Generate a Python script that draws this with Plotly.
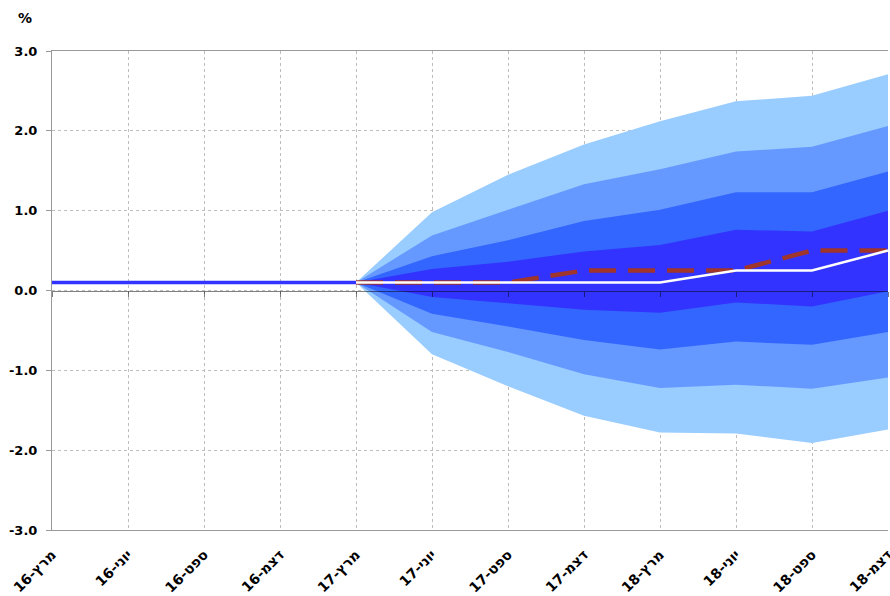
import plotly.graph_objects as go

categories = ["מרץ-16", "יוני-16", "ספט-16", "דצמ-16", "מרץ-17", "יוני-17",
              "ספט-17", "דצמ-17", "מרץ-18", "יוני-18", "ספט-18", "דצמ-18"]

# history (actual rate)
history = [0.1, 0.1, 0.1, 0.1, 0.1]

# forecast period (from מרץ-17)
fc_cats = categories[4:]
band1_upper = [0.1, 0.98, 1.45, 1.83, 2.12, 2.37, 2.44, 2.71]
band1_lower = [0.1, -0.80, -1.20, -1.57, -1.78, -1.79, -1.91, -1.74]
band2_upper = [0.1, 0.69, 1.01, 1.33, 1.52, 1.74, 1.80, 2.06]
band2_lower = [0.1, -0.52, -0.77, -1.05, -1.22, -1.18, -1.23, -1.09]
band3_upper = [0.1, 0.43, 0.63, 0.87, 1.01, 1.23, 1.23, 1.49]
band3_lower = [0.1, -0.29, -0.45, -0.62, -0.74, -0.64, -0.68, -0.52]
band4_upper = [0.1, 0.27, 0.36, 0.49, 0.57, 0.76, 0.74, 1.00]
band4_lower = [0.1, -0.08, -0.16, -0.24, -0.28, -0.15, -0.20, -0.01]

central_path = [0.1, 0.1, 0.1, 0.1, 0.1, 0.25, 0.25, 0.5]
alt_path = [0.1, 0.1, 0.1, 0.25, 0.25, 0.25, 0.5, 0.5]

y_tick_vals = [-3, -2, -1, 0, 1, 2, 3]
y_tick_labels = ["-3.0", "-2.0", "-1.0", "0.0", "1.0", "2.0", "3.0"]

band_colors = ["#99CCFF", "#6699FF", "#3366FF", "#3333FF"]
bands = [(band1_lower, band1_upper), (band2_lower, band2_upper),
         (band3_lower, band3_upper), (band4_lower, band4_upper)]

fig = go.Figure()

for (lo, up), col in zip(bands, band_colors):
    fig.add_trace(go.Scatter(x=fc_cats, y=lo, mode="lines", line=dict(width=0, color=col),
                             showlegend=False, hoverinfo="skip"))
    fig.add_trace(go.Scatter(x=fc_cats, y=up, mode="lines", line=dict(width=0, color=col),
                             fill="tonexty", fillcolor=col, showlegend=False, hoverinfo="skip"))

fig.add_trace(go.Scatter(x=fc_cats, y=alt_path, mode="lines",
                         line=dict(color="#A0352B", width=4.5, dash="27px,12px"),
                         showlegend=False))
fig.add_trace(go.Scatter(x=fc_cats, y=central_path, mode="lines",
                         line=dict(color="white", width=2.5), showlegend=False))
fig.add_trace(go.Scatter(x=categories[:5], y=history, mode="lines",
                         line=dict(color="#3333FF", width=3.5), showlegend=False,
                         xaxis="x2"))

font_family = "Verdana, DejaVu Sans, sans-serif"

fig.update_layout(
    width=890, height=596,
    margin=dict(l=52, r=2, t=51, b=66, autoexpand=False),
    paper_bgcolor="white", plot_bgcolor="white",
    font=dict(family=font_family, size=13, color="black"),
    xaxis=dict(
        type="category", categoryorder="array", categoryarray=categories,
        range=[0, 11], showgrid=True, gridcolor="#BDBDBD", griddash="dot", gridwidth=1,
        showline=True, linecolor="#999999", linewidth=1, mirror=True,
        ticks="outside", ticklen=6, tickcolor="rgba(0,0,0,0)", tickangle=-45,
        ticklabelstandoff=4,
        tickfont=dict(family=font_family, size=14, color="black", weight="bold"),
        zeroline=False, automargin=False,
    ),
    xaxis2=dict(
        type="category", categoryorder="array", categoryarray=categories,
        range=[0, 11], overlaying="x", anchor="free", position=0.5, side="bottom",
        showgrid=False, showline=True, linecolor="rgba(0,0,0,0.5)", linewidth=1,
        ticks="outside", ticklen=5, tickcolor="rgba(0,0,0,0.5)", showticklabels=False,
        zeroline=False, automargin=False,
    ),
    yaxis=dict(
        range=[-3, 3], tickmode="array", tickvals=y_tick_vals, ticktext=y_tick_labels,
        showgrid=True, gridcolor="#BDBDBD", griddash="dot", gridwidth=1,
        showline=True, linecolor="#999999", linewidth=1,
        ticks="outside", ticklen=5, tickcolor="#999999", ticklabelstandoff=6,
        tickfont=dict(family=font_family, size=13, color="black", weight="bold"),
        zeroline=False, automargin=False,
    ),
    annotations=[dict(text="%", x=-0.032, y=1.069, xref="paper", yref="paper",
                      showarrow=False, xanchor="center", yanchor="middle",
                      font=dict(family=font_family, size=14, color="black", weight="bold"))],
)

fig.write_html("out.html", config={"displayModeBar": False},
               post_script="document.body.style.margin='0';document.body.style.overflow='hidden';")
